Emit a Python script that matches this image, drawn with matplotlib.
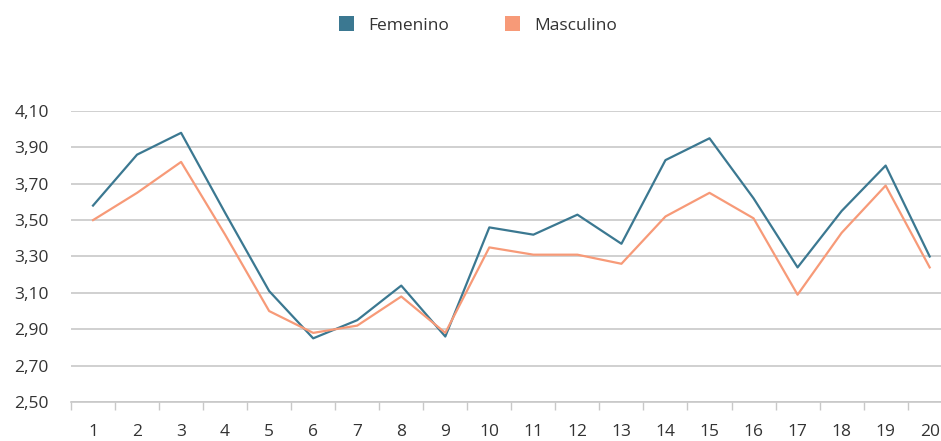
import matplotlib
matplotlib.use("Agg")
import matplotlib.pyplot as plt
from matplotlib.patches import Patch
from matplotlib.ticker import FixedLocator, FuncFormatter

categories = [str(i) for i in range(1, 21)]
femenino = [3.58, 3.86, 3.98, 3.54, 3.11, 2.85, 2.95, 3.14, 2.86, 3.46,
            3.42, 3.53, 3.37, 3.83, 3.95, 3.62, 3.24, 3.55, 3.80, 3.30]
masculino = [3.50, 3.65, 3.82, 3.42, 3.00, 2.88, 2.92, 3.08, 2.88, 3.35,
             3.31, 3.31, 3.26, 3.52, 3.65, 3.51, 3.09, 3.43, 3.69, 3.24]
series_names = ["Femenino", "Masculino"]
colors = ["#3b7891", "#f79a78"]
yticks = [2.50, 2.70, 2.90, 3.10, 3.30, 3.50, 3.70, 3.90, 4.10]

plt.rcParams['font.family'] = ['Open Sans', 'DejaVu Sans']

fig = plt.figure(figsize=(9.41, 4.41), dpi=100)
ax = fig.add_axes([71/941, 1 - 402/441, 880.7/941, 291/441])

x = list(range(len(categories)))
ax.plot(x, femenino, color=colors[0], lw=1.6, zorder=3)
ax.plot(x, masculino, color=colors[1], lw=1.6, zorder=3)

ax.set_xlim(-0.5, len(categories) - 0.5)
ax.set_ylim(2.5, 4.1)
ax.set_yticks(yticks)
ax.yaxis.set_major_formatter(FuncFormatter(lambda v, p: f"{v:.2f}".replace(".", ",")))
ax.grid(axis='y', color='#c8c8c8', lw=1.2, zorder=0)
ax.set_axisbelow(True)

ax.set_xticks(x)
ax.set_xticklabels(categories)
ax.xaxis.set_minor_locator(FixedLocator([i - 0.5 for i in range(len(categories) + 1)]))
ax.tick_params(axis='x', which='major', length=0, pad=16, labelsize=12.5, colors='#333333')
ax.tick_params(axis='x', which='minor', length=6, width=1, color='#c8c8c8')
ax.tick_params(axis='y', length=0, pad=16, labelsize=12.5, colors='#333333')

for s in ['top', 'right', 'left']:
    ax.spines[s].set_visible(False)
ax.spines['bottom'].set_color('#c8c8c8')
ax.spines['bottom'].set_linewidth(1.2)

handles = [Patch(facecolor=c, edgecolor='none') for c in colors]
fig.legend(handles, series_names, loc='center', bbox_to_anchor=(0.508, 1 - 25/441),
           ncol=2, frameon=False, fontsize=12.5, handlelength=0.9, handleheight=0.9,
           columnspacing=3.2, handletextpad=0.8, labelcolor='#333333')

fig.savefig("out.png", dpi=100)
